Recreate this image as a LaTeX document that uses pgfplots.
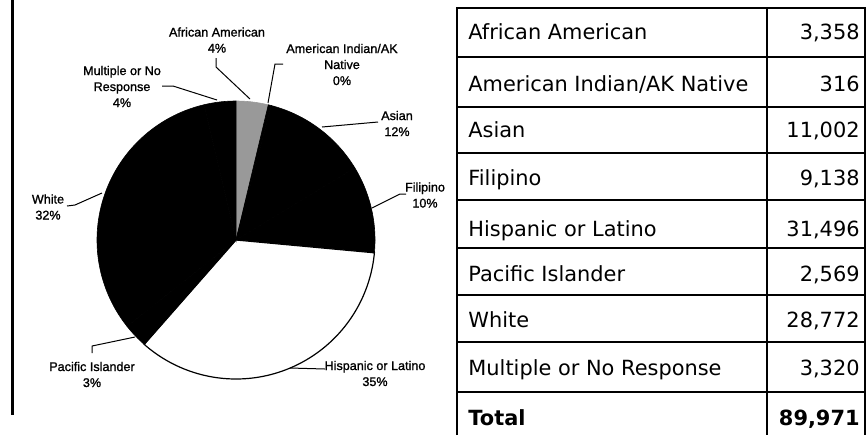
\documentclass[border=0pt]{standalone}
\usepackage{pgfplots}
\pgfplotsset{compat=1.18}
\usepackage{fontspec}
\setmainfont{Liberation Sans}
\newfontfamily\lblfont[FakeBold=1.2]{Liberation Sans}
\newfontfamily\tabfont{DejaVu Sans}
\newcommand\lbl{\lblfont\fontsize{6.3}{8}\selectfont}
\newcommand\tbl{\tabfont\fontsize{10.45}{12}\selectfont}
% counts
\def\vAA{3358}\def\vAI{316}\def\vAS{11002}\def\vFI{9138}
\def\vHI{31496}\def\vPI{2569}\def\vWH{28772}\def\vMU{3320}
\edef\tot{\fpeval{\vAA+\vAI+\vAS+\vFI+\vHI+\vPI+\vWH+\vMU}}
\edef\aA{\fpeval{90-360*\vAA/\tot}}
\edef\aB{\fpeval{\aA-360*\vAI/\tot}}
\edef\aC{\fpeval{\aB-360*\vAS/\tot}}
\edef\aD{\fpeval{\aC-360*\vFI/\tot}}
\edef\aE{\fpeval{\aD-360*\vHI/\tot}}
\edef\aF{\fpeval{\aE-360*\vPI/\tot}}
\edef\aG{\fpeval{\aF-360*\vWH/\tot}}
\edef\aH{\fpeval{\aG-360*\vMU/\tot}}
\newcommand\pieslice[3]{%
  \addplot[#3, domain=#1:#2, samples=80, variable=\t]
    ({236+139*cos(\t)},{240-139*sin(\t)}) -- (axis cs:236,240) -- cycle;}
\newcommand\hrow[1]{\draw[line width=0.8pt] (axis cs:457,#1) -- (axis cs:865,#1);}
\begin{document}
\begin{tikzpicture}
\useasboundingbox (0,0) rectangle (433pt,217.5pt);
\begin{axis}[at={(0,0)}, anchor=south west, x=0.5pt, y=0.5pt,
  xmin=0, xmax=866, ymin=0, ymax=435, y dir=reverse,
  hide axis, clip=false, enlargelimits=false]
% pie
\pieslice{\aA}{90}{fill=black!40, draw=black!40, line width=0.3pt}
\pieslice{\aB}{\aA}{fill=black, draw=black, line width=0.3pt}
\pieslice{\aC}{\aB}{fill=black, draw=black, line width=0.3pt}
\pieslice{\aD}{\aC}{fill=black, draw=black, line width=0.3pt}
\pieslice{\aE}{\aD}{fill=white, draw=black, line width=0.6pt}
\pieslice{\aF}{\aE}{fill=black, draw=black, line width=0.3pt}
\pieslice{\aG}{\aF}{fill=black, draw=black, line width=0.3pt}
\pieslice{\aH}{\aG}{fill=black, draw=black, line width=0.3pt}
% labels
\node[align=center, font=\lbl] at (axis cs:217,40) {African American\\4\%};
\node[align=center, font=\lbl] at (axis cs:342,64.5) {American Indian/AK\\Native\\0\%};
\node[align=center, font=\lbl] at (axis cs:122,86.5) {Multiple or No\\Response\\4\%};
\node[align=center, font=\lbl] at (axis cs:397,123.5) {Asian\\12\%};
\node[align=center, font=\lbl] at (axis cs:425,195) {Filipino\\10\%};
\node[align=center, font=\lbl] at (axis cs:48,207) {White\\32\%};
\node[align=center, font=\lbl] at (axis cs:92,374.5) {Pacific Islander\\3\%};
\node[align=center, font=\lbl] at (axis cs:375,373.5) {Hispanic or Latino\\35\%};
% leader lines
\draw[line width=0.5pt] (axis cs:216,58) -- (axis cs:216,67) -- (axis cs:250,99);
\draw[line width=0.5pt] (axis cs:283,64) -- (axis cs:275,64) -- (axis cs:268,103);
\draw[line width=0.5pt] (axis cs:162,86) -- (axis cs:173,86) -- (axis cs:217,100);
\draw[line width=0.5pt] (axis cs:378,122) -- (axis cs:322,127);
\draw[line width=0.5pt] (axis cs:406,194) -- (axis cs:400,194) -- (axis cs:372,208);
\draw[line width=0.5pt] (axis cs:67,206) -- (axis cs:75,205) -- (axis cs:102,193);
\draw[line width=0.5pt] (axis cs:92,353) -- (axis cs:92,346) -- (axis cs:135,337);
\draw[line width=0.5pt] (axis cs:290,368) -- (axis cs:325,369);
% left rule
\draw[line width=1.5pt] (axis cs:12,0) -- (axis cs:12,415);
% table
\hrow{57}\hrow{107}\hrow{153}\hrow{200}\hrow{248}\hrow{295}\hrow{342}\hrow{392}
\draw[line width=1.1pt] (axis cs:457,435) -- (axis cs:457,8) -- (axis cs:865,8) -- (axis cs:865,435);
\draw[line width=1.1pt] (axis cs:767,8) -- (axis cs:767,435);
\node[anchor=base west, font=\tbl, inner sep=0pt] at (axis cs:468,39) {African American};
\node[anchor=base west, font=\tbl, inner sep=0pt] at (axis cs:468,91) {American Indian/AK Native};
\node[anchor=base west, font=\tbl, inner sep=0pt] at (axis cs:468,137) {Asian};
\node[anchor=base west, font=\tbl, inner sep=0pt] at (axis cs:468,185) {Filipino};
\node[anchor=base west, font=\tbl, inner sep=0pt] at (axis cs:468,236) {Hispanic or Latino};
\node[anchor=base west, font=\tbl, inner sep=0pt] at (axis cs:468,281) {Pacific Islander};
\node[anchor=base west, font=\tbl, inner sep=0pt] at (axis cs:468,327) {White};
\node[anchor=base west, font=\tbl, inner sep=0pt] at (axis cs:468,375) {Multiple or No Response};
\node[anchor=base west, font=\tbl\bfseries, inner sep=0pt] at (axis cs:468,425) {Total};
\node[anchor=base east, font=\tbl, inner sep=0pt] at (axis cs:860,39) {3,358};
\node[anchor=base east, font=\tbl, inner sep=0pt] at (axis cs:860,91) {316};
\node[anchor=base east, font=\tbl, inner sep=0pt] at (axis cs:860,137) {11,002};
\node[anchor=base east, font=\tbl, inner sep=0pt] at (axis cs:860,185) {9,138};
\node[anchor=base east, font=\tbl, inner sep=0pt] at (axis cs:860,236) {31,496};
\node[anchor=base east, font=\tbl, inner sep=0pt] at (axis cs:860,281) {2,569};
\node[anchor=base east, font=\tbl, inner sep=0pt] at (axis cs:860,327) {28,772};
\node[anchor=base east, font=\tbl, inner sep=0pt] at (axis cs:860,375) {3,320};
\node[anchor=base east, font=\tbl\bfseries, inner sep=0pt] at (axis cs:860,425) {89,971};
\end{axis}
\end{tikzpicture}
\end{document}
